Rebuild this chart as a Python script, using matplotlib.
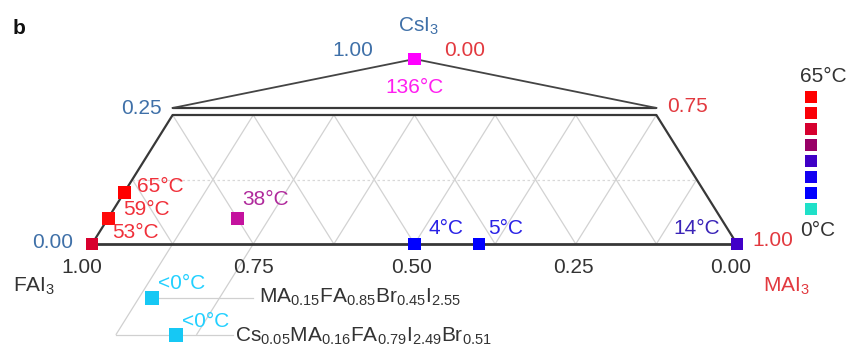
import numpy as np
import matplotlib
matplotlib.use('Agg')
import matplotlib.pyplot as plt

plt.rcParams['font.family'] = ['Liberation Sans', 'DejaVu Sans']
plt.rcParams['mathtext.fontset'] = 'custom'
plt.rcParams['mathtext.rm'] = 'Liberation Sans'
plt.rcParams['mathtext.it'] = 'Liberation Sans:italic'
plt.rcParams['mathtext.bf'] = 'Liberation Sans:bold'

# ---------------- data ----------------
# compositions (fractions of MAI3 and CsI3; FAI3 = 1 - MA - Cs)
point_ma = [0.00, 0.00, 0.00, 0.00, 0.20, 0.50, 0.60, 1.00]
point_cs = [1.00, 0.10, 0.05, 0.00, 0.05, 0.00, 0.00, 0.00]
point_labels = ['136°C', '65°C', '59°C', '53°C', '38°C', '4°C', '5°C', '14°C']
point_colors = ['#ff00ff', '#ff0000', '#ff0a0a', '#d8002e', '#c4129e',
                '#0000ff', '#0000ff', '#4000c8']
label_colors = ['#ff1ef0', '#f0303a', '#f0303a', '#f0303a', '#b02a9c',
                '#2a22e6', '#2a22e6', '#3a24b8']

# mixed-halide compositions (sketch below the FAI3-MAI3 axis)
inset_ma = [0.145, 0.218]
inset_depth = [0.105, 0.176]
inset_labels = ['<0°C', '<0°C']
inset_formulas = [r'MA$_{0.15}$FA$_{0.85}$Br$_{0.45}$I$_{2.55}$',
                  r'Cs$_{0.05}$MA$_{0.16}$FA$_{0.79}$I$_{2.49}$Br$_{0.51}$']

fa_ticks = [1.00, 0.75, 0.50, 0.25, 0.00]
cs_ticks = [0.00, 0.25, 1.00]
ma_ticks = [1.00, 0.75, 0.00]

legend_colors = ['#1fe0c8', '#0000ff', '#1200f2', '#3f00c6',
                 '#980066', '#d6002f', '#fa0008', '#ff0000']
legend_range = ['0°C', '65°C']

# ---------------- layout ----------------
W, H = 850, 348
PX0, PY0, SX, SY = 92, 244, 645, 516
CS_TOP = 0.25
Y_BREAK = 0.2636
Y_APEX = 0.3585

BLUE = '#3f70a8'
RED = '#e2393f'
DARK = '#333333'
CYAN = '#16c8f4'
FS = 15

fig = plt.figure(figsize=(W / 100, H / 100), dpi=100)
ax = fig.add_axes([0, 0, 1, 1])
ax.set_xlim(-PX0 / SX, (W - PX0) / SX)
ax.set_ylim(-(H - PY0) / SY, PY0 / SY)
ax.axis('off')


def ydisp(cs):
    cs = np.asarray(cs, float)
    return np.where(cs <= CS_TOP, cs,
                    Y_BREAK + (cs - CS_TOP) / (1 - CS_TOP) * (Y_APEX - Y_BREAK))


def xdisp(ma, cs):
    return np.asarray(ma, float) + np.asarray(cs, float) / 2


# grid lines
grid_kw = dict(color='#d2d2d2', lw=0.9, zorder=1, solid_capstyle='butt')
step = 0.125
for xb in np.arange(0, 1 + 1e-9, step):
    h = min(CS_TOP, 1 - xb)
    if h > 0 and xb > 0:
        ax.plot([xb, xb + h / 2], [0, h], **grid_kw)
    h = min(CS_TOP, xb)
    if h > 0 and xb < 1:
        ax.plot([xb, xb - h / 2], [0, h], **grid_kw)
ax.plot([step / 2, 1 - step / 2], [step, step], color='#d8d8d8', lw=0.9,
        ls=(0, (2, 2)), zorder=1)

# outline
out_kw = dict(color='#383838', lw=1.6, zorder=2, solid_capstyle='round')
ax.plot([0, 1], [0, 0], color='#383838', lw=2.0, zorder=2)
ax.plot([0, CS_TOP / 2], [0, CS_TOP], **out_kw)
ax.plot([1, 1 - CS_TOP / 2], [0, CS_TOP], **out_kw)
ax.plot([CS_TOP / 2, 1 - CS_TOP / 2], [CS_TOP, CS_TOP], **out_kw)
ax.plot([CS_TOP / 2, 1 - CS_TOP / 2], [Y_BREAK, Y_BREAK], **out_kw)
apx, apy = float(xdisp(0, 1)), float(ydisp(1.0))
ax.plot([CS_TOP / 2, apx, 1 - CS_TOP / 2], [Y_BREAK, apy, Y_BREAK],
        color='#444444', lw=1.3, zorder=2)

# inset sketch lines (below the axis)
inset_x = np.array(inset_ma) - np.array(inset_depth) / 2
inset_y = -np.array(inset_depth)
sk_kw = dict(color='#d0d0d0', lw=0.9, zorder=1)
d_end = 0.175
for xb in [0.125, 0.25]:
    ax.plot([xb, xb - d_end / 2], [0, -d_end], **sk_kw)
ax.plot([inset_x[0], 0.25], [inset_y[0], inset_y[0]], **sk_kw)
ax.plot([0.125 - d_end / 2, 0.219], [inset_y[1], inset_y[1]], **sk_kw)

# data squares
px = xdisp(point_ma, point_cs)
py = ydisp(point_cs)
ax.scatter(px, py, s=86, marker='s', c=point_colors, linewidths=0, zorder=4)
ax.scatter(inset_x, inset_y, s=100, marker='s', c=CYAN, linewidths=0, zorder=4)

# point labels
lab_off = [(0, -28, 'center'), (12.5, 6, 'left'), (15, 9, 'left'),
           (20, 11, 'left'), (5, 19, 'left'), (14, 16, 'left'),
           (9, 16, 'left'), (-17, 16, 'right')]
for x, y, t, c, (dx, dy, ha) in zip(px, py, point_labels, label_colors, lab_off):
    ax.annotate(t, (x, y), xytext=(dx, dy), textcoords='offset pixels',
                ha=ha, va='center', color=c, fontsize=FS, zorder=5)

for x, y, t, (dx, dy) in zip(inset_x, inset_y, inset_labels, [(6, 15), (6, 13)]):
    ax.annotate(t, (x, y), xytext=(dx, dy), textcoords='offset pixels',
                ha='left', va='center', color='#22d0ff', fontsize=FS, zorder=5)
for x, y, t, (dx, dy) in zip(inset_x, inset_y, inset_formulas, [(107, -5), (59, -7)]):
    ax.annotate(t, (x, y), xytext=(dx, dy), textcoords='offset pixels',
                ha='left', va='baseline', color=DARK, fontsize=FS, zorder=5)

# axis tick labels
fa_dx = [-10, 0, -3, -2, -6]
for fa, dx in zip(fa_ticks, fa_dx):
    ax.annotate(f'{fa:.2f}', (1 - fa, 0), xytext=(dx, -23.5),
                textcoords='offset pixels', ha='center', va='center',
                color=DARK, fontsize=FS)

cs_off = [(-19, 1), (-10.6, 6), (-41, 9)]
for cs, (dx, dy) in zip(cs_ticks, cs_off):
    yy = ydisp(cs) if cs != CS_TOP else CS_TOP
    ax.annotate(f'{cs:.2f}', (float(xdisp(0, cs)), float(yy)), xytext=(dx, dy),
                textcoords='offset pixels', ha='right', va='center',
                color=BLUE, fontsize=FS)

ma_off = [(15, 3), (11, 8), (30, 9)]
for ma, (dx, dy) in zip(ma_ticks, ma_off):
    cs = 1 - ma
    ax.annotate(f'{ma:.2f}', (float(xdisp(ma, cs)), float(ydisp(cs))),
                xytext=(dx, dy), textcoords='offset pixels', ha='left',
                va='center', color=RED, fontsize=FS)

# vertex names
ax.annotate(r'CsI$_3$', (apx, apy), xytext=(4, 27), textcoords='offset pixels',
            ha='center', va='baseline', color=BLUE, fontsize=FS)
ax.annotate(r'FAI$_3$', (0, 0), xytext=(-79, -48), textcoords='offset pixels',
            ha='left', va='baseline', color=DARK, fontsize=FS)
ax.annotate(r'MAI$_3$', (1, 0), xytext=(26, -48), textcoords='offset pixels',
            ha='left', va='baseline', color=RED, fontsize=FS)

fig.text(13 / W, 1 - 34 / H, 'b', fontweight='bold', fontsize=FS,
         va='baseline', ha='left', color='#111111')

# colour legend
lax = fig.add_axes([803 / W, (H - 217) / H, 16 / W, 128 / H])
lax.set_xlim(-0.5, 0.5)
lax.set_ylim(-0.5, len(legend_colors) - 0.5)
lax.axis('off')
idx = np.arange(len(legend_colors))
lax.scatter(np.zeros_like(idx), idx, s=76, marker='s', c=legend_colors,
            linewidths=0)
lax.annotate(legend_range[1], (0, idx[-1]), xytext=(-11, 20),
             textcoords='offset pixels', ha='left', va='center',
             color=DARK, fontsize=FS, annotation_clip=False)
lax.annotate(legend_range[0], (0, idx[0]), xytext=(-11, -22),
             textcoords='offset pixels', ha='left', va='center',
             color=DARK, fontsize=FS, annotation_clip=False)

fig.savefig('out.png', dpi=100)
